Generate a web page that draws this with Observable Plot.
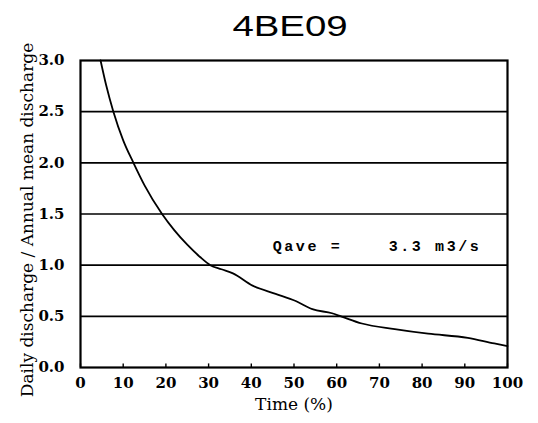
<!DOCTYPE html>
<html>
<head>
<meta charset="utf-8">
<script src="https://cdn.jsdelivr.net/npm/d3@7"></script>
<script src="https://cdn.jsdelivr.net/npm/@observablehq/plot@0.6"></script>
<style>
  html, body { margin: 0; padding: 0; background: #fff; }
  #title { width: 538px; height: 38px; box-sizing: border-box; padding-top: 11px;
           font-family: "Liberation Sans", Arial, sans-serif; font-size: 30px; line-height: 30px;
           text-align: center; color: #000; overflow: visible; }
  #title span { display: inline-block; transform: scaleX(1.28); position: relative; left: 21px; }
  svg text { white-space: pre; }
</style>
</head>
<body>
<div id="title"><span>4BE09</span></div>
<div id="chart"></div>
<script>
// Flow duration curve values
const timePct = [4.7, 6, 7.7, 10, 12.4, 15, 19.1, 22, 25, 28, 30.4, 33, 35.7, 40.3, 45.7, 50.4, 54.3, 58.9, 61, 65.9, 73.6, 81.4, 90.7, 96.9, 100];
const ratio   = [3.0, 2.76, 2.5, 2.22, 2.0, 1.78, 1.5, 1.34, 1.2, 1.08, 1.0, 0.96, 0.92, 0.80, 0.72, 0.65, 0.57, 0.53, 0.5, 0.43, 0.375, 0.33, 0.29, 0.235, 0.21];
const xTicks = [0, 10, 20, 30, 40, 50, 60, 70, 80, 90, 100];
const yTicks = [0, 0.5, 1.0, 1.5, 2.0, 2.5, 3.0];
const gridValues = [0.5, 1.0, 1.5, 2.0, 2.5];
const xLabel = "Time (%)";
const yLabel = "Daily discharge / Annual mean discharge";
const annotation = [{x: 45, y: 1.19, text: "Qave =    3.3 m3/s"}];

const data = timePct.map((t, i) => ({t, r: ratio[i]}));

const chart = Plot.plot({
  width: 538,
  height: 385,
  marginTop: 22,
  marginBottom: 56,
  marginLeft: 80,
  marginRight: 31,
  style: {fontFamily: "DejaVu Serif", fontSize: "15px", fontWeight: "bold", color: "#000", background: "#fff", overflow: "visible"},
  x: {domain: [0, 100], ticks: xTicks, tickSize: 0, tickPadding: 10, tickFormat: d => String(d), label: null},
  y: {domain: [0, 3], ticks: yTicks, tickSize: 0, tickPadding: 16, tickFormat: d => d.toFixed(1), label: null},
  marks: [
    Plot.ruleY(gridValues, {stroke: "#000", strokeWidth: 1.6}),
    Plot.ruleX(xTicks, {y1: 0, y2: 0.035, stroke: "#000", strokeWidth: 1.4}),
    Plot.line(data, {x: "t", y: "r", curve: "monotone-x", stroke: "#000", strokeWidth: 1.8}),
    Plot.frame({stroke: "#000", strokeWidth: 2.2}),
    Plot.text(annotation, {x: "x", y: "y", text: "text", textAnchor: "start",
      fontFamily: "Liberation Mono", fontSize: 15, fontWeight: "bold", fill: "#000"}),
    Plot.text([xLabel], {frameAnchor: "bottom", lineAnchor: "middle", textAnchor: "middle", dy: 37, fontSize: 17, fontWeight: "normal", fill: "#000"}),
    Plot.text([yLabel], {frameAnchor: "left", lineAnchor: "middle", textAnchor: "middle", rotate: -90, dx: -53, dy: 6, fontSize: 17, fontWeight: "normal", fill: "#000"})
  ]
});
d3.select(chart).selectAll("text").filter(function() { return this.textContent.startsWith("Qave"); })
  .attr("letter-spacing", "2.6px");
document.getElementById("chart").appendChild(chart);
</script>
</body>
</html>
